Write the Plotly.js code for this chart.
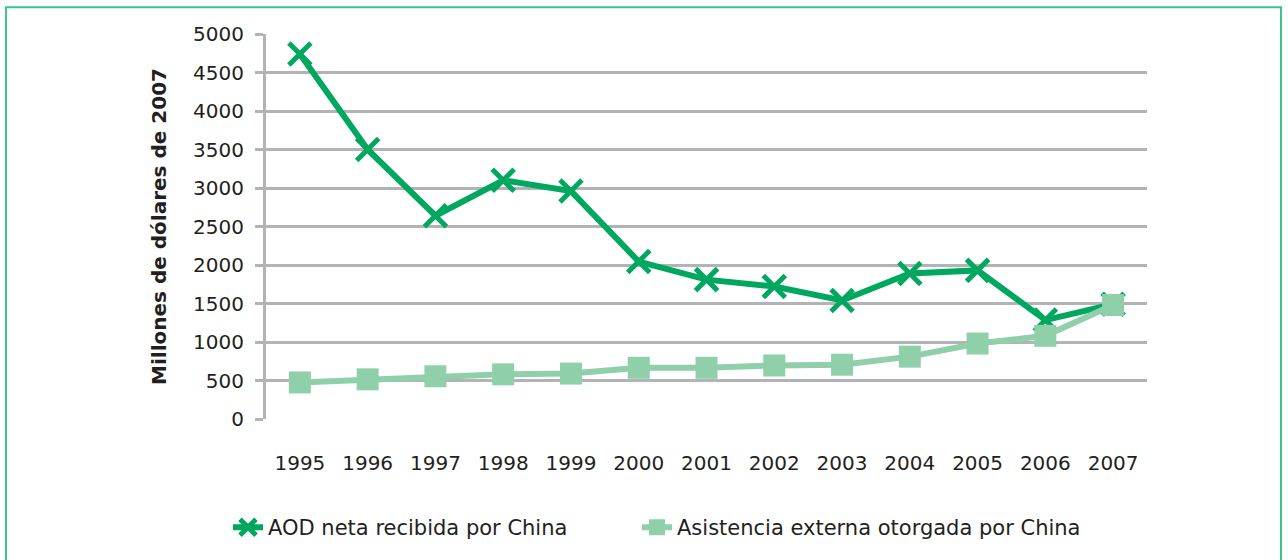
<!DOCTYPE html>
<html><head><meta charset="utf-8">
<script src="https://cdn.plot.ly/plotly-3.0.1.min.js"></script>
<style>html,body{margin:0;padding:0;background:#fff}#chart{width:1288px;height:560px}</style>
</head><body><div id="chart"></div>
<script>
const years = ['1995','1996','1997','1998','1999','2000','2001','2002','2003','2004','2005','2006','2007'];
const aodRecibida = [4740, 3500, 2640, 3100, 2960, 2045, 1810, 1720, 1540, 1890, 1930, 1285, 1490];
const asistenciaOtorgada = [475, 515, 555, 580, 590, 665, 665, 695, 705, 810, 980, 1080, 1480];
const yTicks = [0,500,1000,1500,2000,2500,3000,3500,4000,4500,5000];

const dark = '#00a85f', light = '#8fd0aa', grid = '#b1b3b5', txt = '#231f20';
const L = 266, R = 1147, T = 34, B = 424, W = 1288, H = 560;
const pw = R - L, ph = B - T;
const px = x => (x - L) / pw, py = y => (B - y) / ph;

const traces = [
  {x: years, y: aodRecibida, type: 'scatter', mode: 'lines+markers', name: 'AOD neta recibida por China', legend: 'legend',
   line: {color: dark, width: 6}, marker: {symbol: 'x-thin', size: 22, color: dark, line: {color: dark, width: 5}}},
  {x: years, y: asistenciaOtorgada, type: 'scatter', mode: 'lines+markers', name: 'Asistencia externa otorgada por China', legend: 'legend2',
   line: {color: light, width: 6}, marker: {symbol: 'square', size: 22, color: light, line: {width: 0}}}
];

const legendBase = {orientation: 'h', xanchor: 'left', y: py(534), yanchor: 'middle',
                    font: {family: 'DejaVu Sans', size: 21, color: txt}, bgcolor: 'rgba(0,0,0,0)'};

const layout = {
  width: W, height: H,
  margin: {l: L, r: W - R, t: T, b: H - B, pad: 0},
  paper_bgcolor: '#fff', plot_bgcolor: '#fff',
  font: {family: 'DejaVu Sans', size: 20, color: txt},
  showlegend: true,
  legend: Object.assign({}, legendBase, {x: px(228)}),
  legend2: Object.assign({}, legendBase, {x: px(637)}),
  xaxis: {type: 'category', range: [-0.5, 12.5], showgrid: false, zeroline: false, showline: false,
          ticks: '', tickfont: {family: 'DejaVu Sans', size: 20, color: txt}, ticklabelstandoff: 30, fixedrange: true},
  yaxis: {range: [0, 5000], tickvals: yTicks, ticktext: yTicks.map(String), showgrid: true, gridcolor: grid, gridwidth: 3,
          zeroline: false, showline: true, linecolor: grid, linewidth: 3, ticks: 'outside', ticklen: 8, tickwidth: 3, tickcolor: grid,
          tickfont: {family: 'DejaVu Sans', size: 20, color: txt}, ticklabelstandoff: 7,
          title: {text: 'Millones de dólares de 2007', font: {family: 'DejaVu Sans', size: 20, color: txt, weight: 'bold'}, standoff: 22},
          fixedrange: true},
  shapes: [
    {type: 'rect', xref: 'paper', yref: 'paper', x0: px(6), x1: px(1281), y0: py(570), y1: py(7),
     line: {color: '#3cc48a', width: 2}, fillcolor: 'rgba(0,0,0,0)', layer: 'below'}
  ]
};
Plotly.newPlot('chart', traces, layout, {displayModeBar: false, staticPlot: true});
</script></body></html>
